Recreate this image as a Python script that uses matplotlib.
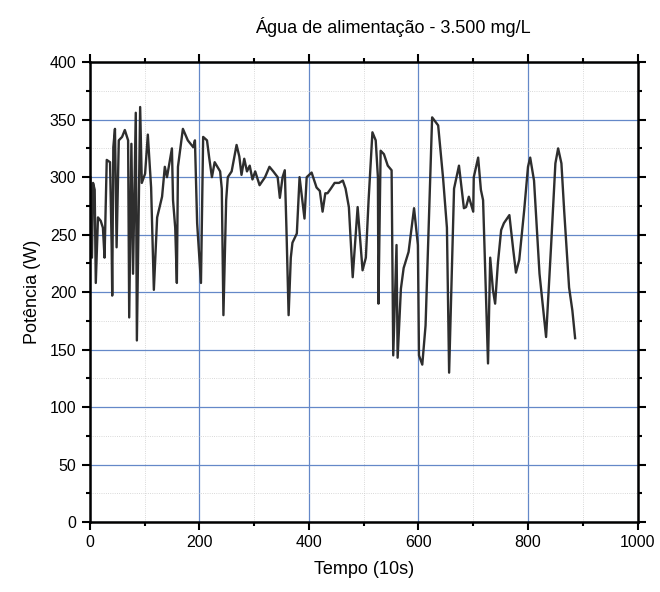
import matplotlib
matplotlib.use("Agg")
import matplotlib.pyplot as plt
from matplotlib.ticker import MultipleLocator

plt.rcParams["font.family"] = ["Liberation Sans", "DejaVu Sans"]

# Tempo (10s) and Potência (W)
tempo = [1, 4, 6, 9, 11, 15, 20, 24, 27, 31, 37, 40, 41, 43, 46, 49, 53, 59, 64, 70,
         72, 76, 79, 84, 86, 92, 95, 101, 106, 112, 117, 123, 132, 137, 141, 150, 152,
         156, 159, 161, 168, 170, 179, 189, 192, 196, 200, 203, 207, 214, 218, 223,
         228, 233, 238, 241, 244, 249, 252, 259, 268, 273, 277, 282, 287, 292, 297,
         302, 310, 320, 328, 335, 343, 347, 352, 356, 359, 363, 367, 370, 378, 383,
         392, 396, 405, 414, 420, 425, 430, 434, 440, 447, 455, 462, 467, 473, 480,
         489, 498, 504, 509, 516, 522, 526, 527, 531, 537, 544, 551, 554, 560, 562,
         568, 573, 582, 592, 599, 601, 607, 613, 619, 625, 636, 645, 652, 656, 665,
         674, 683, 687, 692, 700, 701, 709, 714, 718, 727, 731, 736, 740, 745, 751,
         756, 766, 773, 778, 784, 793, 800, 804, 811, 821, 833, 842, 850, 855, 861,
         866, 875, 881, 886]
potencia = [300, 230, 295, 289, 208, 265, 262, 256, 230, 315, 313, 239, 197, 326, 342,
            239, 332, 335, 341, 332, 178, 329, 216, 356, 158, 361, 295, 303, 337, 291,
            202, 265, 283, 309, 300, 325, 280, 256, 208, 309, 335, 342, 332, 326, 332,
            260, 230, 208, 335, 332, 317, 300, 313, 309, 305, 290, 180, 280, 300, 305,
            328, 318, 302, 316, 305, 310, 298, 305, 293, 300, 309, 305, 300, 282, 300,
            306, 256, 180, 230, 243, 251, 300, 264, 300, 304, 291, 288, 270, 286, 286,
            290, 295, 295, 297, 290, 274, 213, 274, 219, 230, 280, 339, 332, 300, 190,
            323, 320, 310, 306, 145, 241, 143, 203, 221, 235, 273, 241, 145, 137, 171,
            261, 352, 345, 299, 256, 130, 290, 310, 273, 274, 283, 270, 300, 317, 289,
            280, 138, 230, 202, 190, 225, 254, 260, 267, 237, 217, 228, 271, 309, 317,
            297, 216, 161, 239, 312, 325, 312, 271, 204, 184, 160]

fig = plt.figure(figsize=(6.6, 5.92), dpi=100)
ax = fig.add_axes([0.136, 0.118, 0.83, 0.777])

ax.plot(tempo, potencia, color="#2e2e2e", linewidth=1.7)

ax.set_xlim(0, 1000)
ax.set_ylim(0, 400)
ax.xaxis.set_major_locator(MultipleLocator(200))
ax.xaxis.set_minor_locator(MultipleLocator(100))
ax.yaxis.set_major_locator(MultipleLocator(50))
ax.yaxis.set_minor_locator(MultipleLocator(25))

ax.grid(which="major", color="#6488c8", linewidth=0.9)
ax.grid(which="minor", color="#cccccc", linewidth=0.6, linestyle=":")
ax.set_axisbelow(True)

ax.tick_params(which="both", direction="out", top=True, right=True,
               labelsize=11.5, width=1.5)
ax.tick_params(which="major", length=6)
ax.tick_params(which="minor", length=3)
for s in ax.spines.values():
    s.set_linewidth(1.8)

ax.set_xlabel("Tempo (10s)", fontsize=13, labelpad=8)
ax.set_ylabel("Potência (W)", fontsize=13, labelpad=6)
fig.text(0.595, 0.945, "Água de alimentação - 3.500 mg/L", fontsize=13, ha="center")

fig.savefig("out.png", dpi=100)
